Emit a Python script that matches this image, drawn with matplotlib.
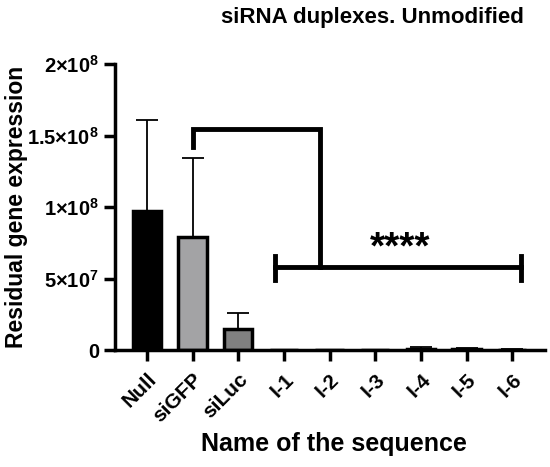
import matplotlib.pyplot as plt

plt.rcParams['font.family'] = ['Liberation Sans', 'DejaVu Sans']
plt.rcParams['font.weight'] = 'bold'
plt.rcParams['mathtext.fontset'] = 'custom'
plt.rcParams['mathtext.rm'] = 'Liberation Sans:bold'
plt.rcParams['mathtext.bf'] = 'Liberation Sans:bold'

names = ["Null", "siGFP", "siLuc", "I-1", "I-2", "I-3", "I-4", "I-5", "I-6"]
means = [0.97e8, 0.79e8, 0.15e8, 0.0, 0.03e7, 0.03e7, 0.08e7, 0.06e7, 0.04e7]
errors = [0.64e8, 0.55e8, 0.11e8, 0.0, 0.02e7, 0.02e7, 0.14e7, 0.12e7, 0.05e7]
colors = ["#000000", "#a3a3a5", "#808080", "white", "white", "white", "white", "white", "white"]
yticks = [0, 5e7, 1e8, 1.5e8, 2e8]
yticklabels = ["0", r"$5{\times}10^7$", r"$1{\times}10^8$", r"$1.5{\times}10^8$", r"$2{\times}10^8$"]


def main():
    fig = plt.figure(figsize=(5.5, 4.67), dpi=100)
    ax = fig.add_axes([0.209, 0.25, 0.782, 0.613])
    x = list(range(len(names)))

    ax.bar(x, means, width=0.62, color=colors, edgecolor="black", linewidth=2.5, zorder=2)
    for xi, m, e in zip(x, means, errors):
        if e > 0:
            ax.errorbar(xi, m + e / 2, yerr=e / 2, fmt="none", ecolor="black",
                        elinewidth=1.3, capsize=8, capthick=1.3, zorder=1)

    # significance brackets
    ax.plot([1, 1, 3.8, 3.8], [1.42e8, 1.545e8, 1.545e8, 0.58e8], color="black",
            lw=3.5, solid_joinstyle="miter", clip_on=False)
    ax.plot([2.8, 8.2], [0.58e8, 0.58e8], color="black", lw=3.5, clip_on=False)
    ax.plot([2.8, 2.8], [0.49e8, 0.66e8], color="black", lw=3.5, clip_on=False)
    ax.plot([8.2, 8.2], [0.49e8, 0.66e8], color="black", lw=3.5, clip_on=False)
    ax.text(5.55, 0.585e8, "****", ha="center", va="bottom", fontsize=28, fontweight="bold")

    ax.set_xlim(-0.7, 8.72)
    ax.set_ylim(0, 2e8)
    ax.set_yticks(yticks)
    ax.set_yticklabels(yticklabels, fontsize=14.5)
    ax.set_xticks(x)
    ax.set_xticklabels(names, rotation=45, ha="right", rotation_mode="anchor", fontsize=15)
    ax.spines["top"].set_visible(False)
    ax.spines["right"].set_visible(False)
    ax.spines["left"].set_linewidth(2.5)
    ax.spines["bottom"].set_linewidth(2.5)
    ax.tick_params(width=2.5, length=8)
    ax.tick_params(axis="x", pad=6)

    ax.set_ylabel("Residual gene expression", fontsize=16.5, fontweight="bold")
    ax.set_xlabel("Name of the sequence", fontsize=18, fontweight="bold")
    fig.text(0.677, 0.962, "siRNA duplexes. Unmodified", ha="center", va="center",
             fontsize=16, fontweight="bold")
    ax.yaxis.set_label_coords(-0.202, 0.5)
    ax.xaxis.set_label_coords(0.51, -0.285)

    fig.savefig("out.png", dpi=100)


if __name__ == "__main__":
    main()
